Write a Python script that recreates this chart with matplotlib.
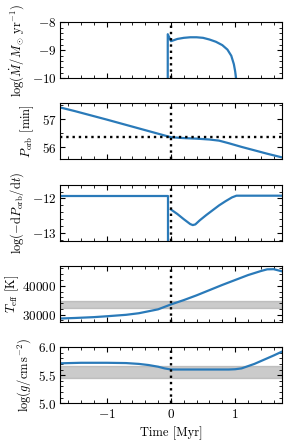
import matplotlib
matplotlib.use("Agg")
import matplotlib.pyplot as plt
from matplotlib.ticker import AutoMinorLocator, MultipleLocator

plt.rcParams["font.family"] = ["cmr10", "DejaVu Serif"]
plt.rcParams["mathtext.fontset"] = "cm"
plt.rcParams["axes.formatter.use_mathtext"] = True
plt.rcParams["axes.unicode_minus"] = False
plt.rcParams["font.size"] = 9
plt.rcParams["xtick.labelsize"] = 9.5
plt.rcParams["ytick.labelsize"] = 9.5

BLUE = "#2a7ab9"

# --- mass transfer rate ---
mdot_t = [-0.05, -0.05, 0.0, 0.05, 0.1, 0.2, 0.3, 0.4, 0.5, 0.6, 0.7, 0.8,
          0.88, 0.94, 0.98, 1.0, 1.02]
mdot_v = [-10.5, -8.43, -8.68, -8.64, -8.6, -8.56, -8.54, -8.54, -8.56, -8.62,
          -8.7, -8.82, -8.98, -9.2, -9.5, -9.75, -10.1]

# --- orbital period ---
porb_t = [-1.75, -1.5, -1.0, -0.5, 0.0, 0.2, 0.4, 0.6, 0.75, 0.9, 1.1, 1.3, 1.5, 1.75]
porb_v = [57.42, 57.28, 56.98, 56.67, 56.36, 56.33, 56.31, 56.28, 56.24, 56.15,
          56.02, 55.9, 55.78, 55.64]
porb_now = 56.36

# --- period derivative ---
pdot_pre_t = [-1.75, -0.05, -0.05]
pdot_pre_v = [-11.92, -11.92, -13.5]
pdot_post_t = [0.0, 0.1, 0.2, 0.3, 0.34, 0.38, 0.45, 0.55, 0.65, 0.75, 0.85,
               0.95, 1.02, 1.75]
pdot_post_v = [-12.32, -12.45, -12.6, -12.74, -12.77, -12.75, -12.63, -12.48,
               -12.34, -12.2, -12.08, -11.97, -11.92, -11.92]

# --- effective temperature ---
teff_t = [-1.75, -1.5, -1.2, -1.0, -0.7, -0.5, -0.2, 0.0, 0.2, 0.4, 0.6, 0.8,
          1.0, 1.2, 1.4, 1.5, 1.6, 1.75]
teff_v = [28650, 28850, 29150, 29450, 29950, 30500, 31850, 33550, 35050, 36700,
          38500, 40300, 42000, 43700, 45100, 45700, 45750, 44900]
teff_obs = (32350, 34600)

# --- surface gravity ---
logg_t = [-1.75, -1.4, -1.0, -0.7, -0.5, -0.35, -0.2, -0.1, 0.0, 0.3, 0.6, 0.9,
          1.0, 1.1, 1.2, 1.3, 1.4, 1.5, 1.6, 1.75]
logg_v = [5.71, 5.72, 5.72, 5.715, 5.70, 5.68, 5.65, 5.62, 5.60, 5.60, 5.60,
          5.60, 5.605, 5.62, 5.66, 5.70, 5.75, 5.80, 5.85, 5.93]
logg_obs = (5.44, 5.66)

fig, axes = plt.subplots(5, 1, figsize=(2.91, 4.43), dpi=100, sharex=True)
fig.subplots_adjust(left=0.206, right=0.969, top=0.950, bottom=0.090, hspace=0.45)

ax = axes[0]
ax.plot(mdot_t, mdot_v, color=BLUE, lw=1.6)
ax.set_ylim(-10, -8)
ax.set_ylabel(r"$\log(\dot{M}/M_\odot\,\mathrm{yr}^{-1})$")

ax = axes[1]
ax.plot(porb_t, porb_v, color=BLUE, lw=1.6)
ax.axhline(porb_now, color="k", ls=":", lw=1.7)
ax.set_ylim(55.58, 57.55)
ax.yaxis.set_minor_locator(MultipleLocator(0.5))
ax.set_ylabel(r"$P_\mathrm{orb}$ [min]")

ax = axes[2]
ax.plot(pdot_pre_t, pdot_pre_v, color=BLUE, lw=1.6)
ax.plot(pdot_post_t, pdot_post_v, color=BLUE, lw=1.6)
ax.set_ylim(-13.22, -11.6)
ax.set_ylabel(r"$\log(-\mathrm{d}P_\mathrm{orb}/\mathrm{d}t)$")

ax = axes[3]
ax.axhspan(*teff_obs, color="0.6", alpha=0.5, lw=1)
ax.plot(teff_t, teff_v, color=BLUE, lw=1.6)
ax.set_ylim(27500, 46900)
ax.set_ylabel(r"$T_\mathrm{eff}$ [K]", labelpad=1)

ax = axes[4]
ax.axhspan(*logg_obs, color="0.6", alpha=0.5, lw=1)
ax.plot(logg_t, logg_v, color=BLUE, lw=1.6)
ax.set_ylim(5.0, 6.0)
ax.set_ylabel(r"$\log(g/\mathrm{cm\,s^{-2}})$")
ax.set_xlabel("Time [Myr]")

for ax in axes:
    ax.axvline(0, color="k", ls=":", lw=1.7)
    ax.set_xlim(-1.73, 1.73)
    ax.xaxis.set_minor_locator(AutoMinorLocator())
    if ax is not axes[1]:
        ax.yaxis.set_minor_locator(AutoMinorLocator())
    ax.tick_params(which="both", direction="in", top=True, right=True)
    ax.tick_params(which="major", length=3.5)
    ax.tick_params(which="minor", length=2)
    ax.tick_params(axis="y", pad=2.5)

fig.savefig("out.png", dpi=100)
